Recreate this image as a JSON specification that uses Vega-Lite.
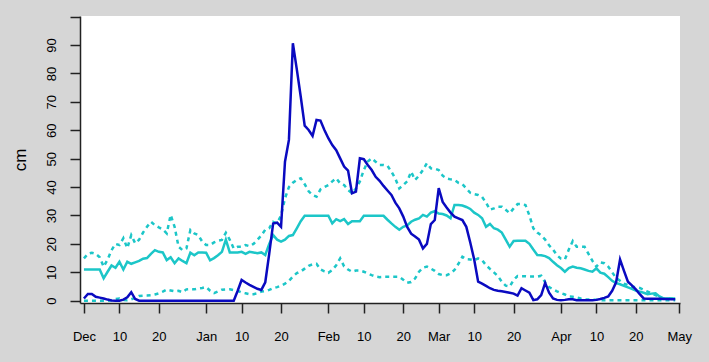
{
"$schema": "https://vega.github.io/schema/vega-lite/v6.json",
"width": 600, "height": 287,
"autosize": {"type": "none"},
"padding": {"left": 80, "top": 16, "right": 29, "bottom": 59},
"background": "#d6d6d6",
"config": {
  "view": {"fill": "white", "stroke": null},
  "font": "Liberation Sans",
  "axis": {"domainColor": "#222", "domainWidth": 1.5, "tickColor": "#222", "tickWidth": 1.5, "tickSize": 10,
           "labelColor": "#000", "labelFontSize": 13, "labelFont": "Liberation Sans", "grid": false,
           "titleFont": "Liberation Sans", "titleColor": "#000", "titleFontWeight": "normal"}
},
"data": {"values": [
{"date":"2018-12-01","obs":0.8,"med":11,"hi":14.9,"lo":0},
{"date":"2018-12-02","obs":2.4,"med":11,"hi":16.5,"lo":0},
{"date":"2018-12-03","obs":2.4,"med":11,"hi":16.9,"lo":0},
{"date":"2018-12-04","obs":1.4,"med":11,"hi":16.5,"lo":0},
{"date":"2018-12-05","obs":1.1,"med":11,"hi":15.3,"lo":0},
{"date":"2018-12-06","obs":0.8,"med":7.9,"hi":12,"lo":0},
{"date":"2018-12-07","obs":0.4,"med":10.2,"hi":14.5,"lo":0},
{"date":"2018-12-08","obs":0.1,"med":12.4,"hi":17.8,"lo":0.2},
{"date":"2018-12-09","obs":0,"med":11.6,"hi":20,"lo":0.6},
{"date":"2018-12-10","obs":0,"med":13.7,"hi":19.6,"lo":0.8},
{"date":"2018-12-11","obs":0.4,"med":11,"hi":22,"lo":0.3},
{"date":"2018-12-12","obs":1.2,"med":13.7,"hi":18.5,"lo":0.2},
{"date":"2018-12-13","obs":3.0,"med":13,"hi":23.1,"lo":0.5},
{"date":"2018-12-14","obs":0.6,"med":13.5,"hi":20.2,"lo":1},
{"date":"2018-12-15","obs":0,"med":14,"hi":21.5,"lo":1.7},
{"date":"2018-12-16","obs":0,"med":14.8,"hi":24,"lo":1.8},
{"date":"2018-12-17","obs":0,"med":15,"hi":26,"lo":1.8},
{"date":"2018-12-18","obs":0,"med":16.5,"hi":27.8,"lo":1.9},
{"date":"2018-12-19","obs":0,"med":17.8,"hi":26.6,"lo":2.2},
{"date":"2018-12-20","obs":0,"med":17.2,"hi":25.8,"lo":2.6},
{"date":"2018-12-21","obs":0,"med":17,"hi":25.1,"lo":3.2},
{"date":"2018-12-22","obs":0,"med":14.3,"hi":23.7,"lo":3.9},
{"date":"2018-12-23","obs":0,"med":15.3,"hi":30.2,"lo":3.6},
{"date":"2018-12-24","obs":0,"med":13.2,"hi":26,"lo":3.3},
{"date":"2018-12-25","obs":0,"med":14.9,"hi":19,"lo":3.5},
{"date":"2018-12-26","obs":0,"med":14,"hi":17.8,"lo":3},
{"date":"2018-12-27","obs":0,"med":13.2,"hi":18.4,"lo":4},
{"date":"2018-12-28","obs":0,"med":16.9,"hi":24.9,"lo":4.1},
{"date":"2018-12-29","obs":0,"med":16,"hi":23.7,"lo":4},
{"date":"2018-12-30","obs":0,"med":17,"hi":23.1,"lo":4.3},
{"date":"2018-12-31","obs":0,"med":17,"hi":20.8,"lo":4.5},
{"date":"2019-01-01","obs":0,"med":16.9,"hi":19.6,"lo":4.8},
{"date":"2019-01-02","obs":0,"med":14.2,"hi":19.6,"lo":3.5},
{"date":"2019-01-03","obs":0,"med":15,"hi":20.5,"lo":2.7},
{"date":"2019-01-04","obs":0,"med":16,"hi":21.1,"lo":3.3},
{"date":"2019-01-05","obs":0,"med":17.2,"hi":21.4,"lo":3.9},
{"date":"2019-01-06","obs":0,"med":21.5,"hi":23.9,"lo":4},
{"date":"2019-01-07","obs":0,"med":17,"hi":21.4,"lo":4},
{"date":"2019-01-08","obs":0,"med":17,"hi":18.4,"lo":3.7},
{"date":"2019-01-09","obs":3.5,"med":17,"hi":19,"lo":3.5},
{"date":"2019-01-10","obs":7.3,"med":17.2,"hi":19,"lo":2.9},
{"date":"2019-01-11","obs":6.4,"med":16.5,"hi":19.6,"lo":2.6},
{"date":"2019-01-12","obs":5.6,"med":17.2,"hi":19.2,"lo":2.3},
{"date":"2019-01-13","obs":4.9,"med":17,"hi":20,"lo":2.3},
{"date":"2019-01-14","obs":4.2,"med":16.7,"hi":21.4,"lo":2.6},
{"date":"2019-01-15","obs":3.8,"med":17,"hi":23,"lo":3.2},
{"date":"2019-01-16","obs":6.5,"med":16.1,"hi":25,"lo":3.4},
{"date":"2019-01-17","obs":16.5,"med":20,"hi":25.5,"lo":3.8},
{"date":"2019-01-18","obs":27.2,"med":23.1,"hi":27.8,"lo":4.4},
{"date":"2019-01-19","obs":27.5,"med":21.5,"hi":27.2,"lo":4.8},
{"date":"2019-01-20","obs":26,"med":20.8,"hi":30,"lo":5.3},
{"date":"2019-01-21","obs":48.9,"med":21.5,"hi":36,"lo":6},
{"date":"2019-01-22","obs":56.6,"med":22.8,"hi":40,"lo":7},
{"date":"2019-01-23","obs":90.6,"med":23.1,"hi":41.5,"lo":8.5},
{"date":"2019-01-24","obs":81.4,"med":25.5,"hi":42.5,"lo":9.7},
{"date":"2019-01-25","obs":71.8,"med":28,"hi":43.1,"lo":10.3},
{"date":"2019-01-26","obs":61.6,"med":29.9,"hi":41,"lo":11.3},
{"date":"2019-01-27","obs":60.1,"med":29.9,"hi":38.5,"lo":12.3},
{"date":"2019-01-28","obs":58,"med":29.9,"hi":37.2,"lo":12.8},
{"date":"2019-01-29","obs":63.6,"med":29.9,"hi":36.6,"lo":13},
{"date":"2019-01-30","obs":63.4,"med":29.9,"hi":39.2,"lo":11},
{"date":"2019-01-31","obs":60.1,"med":29.9,"hi":40,"lo":10.3},
{"date":"2019-02-01","obs":57.2,"med":29.9,"hi":40.7,"lo":9.8},
{"date":"2019-02-02","obs":54.8,"med":27.2,"hi":42,"lo":10.8},
{"date":"2019-02-03","obs":53,"med":28.7,"hi":43.1,"lo":12.5},
{"date":"2019-02-04","obs":50.1,"med":28,"hi":41.3,"lo":14.9},
{"date":"2019-02-05","obs":47.2,"med":28.7,"hi":40.7,"lo":12.1},
{"date":"2019-02-06","obs":45.8,"med":27,"hi":39,"lo":11},
{"date":"2019-02-07","obs":37.8,"med":28,"hi":37.8,"lo":10.2},
{"date":"2019-02-08","obs":38.4,"med":28,"hi":39.5,"lo":10.6},
{"date":"2019-02-09","obs":50.1,"med":28,"hi":42,"lo":10.6},
{"date":"2019-02-10","obs":49.8,"med":29.9,"hi":46,"lo":10.2},
{"date":"2019-02-11","obs":47.8,"med":29.9,"hi":49,"lo":9.6},
{"date":"2019-02-12","obs":46,"med":29.9,"hi":50.1,"lo":9},
{"date":"2019-02-13","obs":43.6,"med":29.9,"hi":48.9,"lo":8.5},
{"date":"2019-02-14","obs":42.2,"med":29.9,"hi":47.8,"lo":8.3},
{"date":"2019-02-15","obs":40.4,"med":29.9,"hi":47.8,"lo":8.4},
{"date":"2019-02-16","obs":38.8,"med":28.5,"hi":47.5,"lo":8.4},
{"date":"2019-02-17","obs":37.2,"med":27.2,"hi":45.4,"lo":8.4},
{"date":"2019-02-18","obs":34.5,"med":26,"hi":43,"lo":8.4},
{"date":"2019-02-19","obs":32.5,"med":25,"hi":39.5,"lo":8.4},
{"date":"2019-02-20","obs":29.6,"med":26,"hi":40.7,"lo":7.4},
{"date":"2019-02-21","obs":26,"med":26.5,"hi":42,"lo":6.3},
{"date":"2019-02-22","obs":23.6,"med":27.8,"hi":45.4,"lo":6.6},
{"date":"2019-02-23","obs":22.6,"med":28.5,"hi":42.5,"lo":7.8},
{"date":"2019-02-24","obs":21.5,"med":29,"hi":44,"lo":10.2},
{"date":"2019-02-25","obs":18.4,"med":30.2,"hi":46,"lo":11.6},
{"date":"2019-02-26","obs":20,"med":29.6,"hi":48.4,"lo":12},
{"date":"2019-02-27","obs":27,"med":31,"hi":46.6,"lo":11.3},
{"date":"2019-02-28","obs":28.4,"med":31.5,"hi":46.5,"lo":10.5},
{"date":"2019-03-01","obs":39.6,"med":30.7,"hi":46,"lo":9.4},
{"date":"2019-03-02","obs":34.8,"med":30.5,"hi":44,"lo":9},
{"date":"2019-03-03","obs":32.8,"med":30,"hi":43,"lo":9},
{"date":"2019-03-04","obs":31,"med":29,"hi":42.7,"lo":9.6},
{"date":"2019-03-05","obs":29.6,"med":33.7,"hi":42.5,"lo":10.8},
{"date":"2019-03-06","obs":29,"med":33.7,"hi":41.5,"lo":13},
{"date":"2019-03-07","obs":28.4,"med":33.5,"hi":41,"lo":15.5},
{"date":"2019-03-08","obs":26,"med":33,"hi":39.5,"lo":14.6},
{"date":"2019-03-09","obs":20.5,"med":32.3,"hi":38,"lo":14.5},
{"date":"2019-03-10","obs":14.5,"med":31,"hi":37.5,"lo":14.2},
{"date":"2019-03-11","obs":6.7,"med":30.2,"hi":37.2,"lo":14.9},
{"date":"2019-03-12","obs":6,"med":29,"hi":36.5,"lo":14.3},
{"date":"2019-03-13","obs":5.2,"med":26,"hi":34.5,"lo":12.5},
{"date":"2019-03-14","obs":4.4,"med":27,"hi":32,"lo":11.2},
{"date":"2019-03-15","obs":3.8,"med":25.5,"hi":32.5,"lo":10},
{"date":"2019-03-16","obs":3.5,"med":25,"hi":33.1,"lo":8.7},
{"date":"2019-03-17","obs":3.3,"med":24,"hi":33.1,"lo":6.7},
{"date":"2019-03-18","obs":3.1,"med":21.5,"hi":32,"lo":5.3},
{"date":"2019-03-19","obs":2.8,"med":19,"hi":30.8,"lo":5},
{"date":"2019-03-20","obs":2.5,"med":21,"hi":32.5,"lo":7.3},
{"date":"2019-03-21","obs":1.8,"med":21.1,"hi":34,"lo":8.7},
{"date":"2019-03-22","obs":4.4,"med":21.1,"hi":34,"lo":8.6},
{"date":"2019-03-23","obs":3.6,"med":21.1,"hi":33.7,"lo":8.6},
{"date":"2019-03-24","obs":2.8,"med":20,"hi":30,"lo":8.5},
{"date":"2019-03-25","obs":0.2,"med":18,"hi":25.5,"lo":8.5},
{"date":"2019-03-26","obs":0.5,"med":16.1,"hi":24,"lo":8.5},
{"date":"2019-03-27","obs":2,"med":16,"hi":23,"lo":8.8},
{"date":"2019-03-28","obs":6.3,"med":15.7,"hi":21.5,"lo":6.5},
{"date":"2019-03-29","obs":2.8,"med":15,"hi":19.5,"lo":4.8},
{"date":"2019-03-30","obs":0.8,"med":13.7,"hi":18,"lo":4},
{"date":"2019-03-31","obs":0.3,"med":12.5,"hi":16,"lo":3.3},
{"date":"2019-04-01","obs":0.2,"med":11.5,"hi":14.8,"lo":2.7},
{"date":"2019-04-02","obs":0.3,"med":10.2,"hi":14.5,"lo":2.2},
{"date":"2019-04-03","obs":0.5,"med":11.5,"hi":18,"lo":1.5},
{"date":"2019-04-04","obs":0.5,"med":12,"hi":21,"lo":1.4},
{"date":"2019-04-05","obs":0.2,"med":11.6,"hi":19,"lo":1.2},
{"date":"2019-04-06","obs":0.2,"med":11.4,"hi":19,"lo":0.8},
{"date":"2019-04-07","obs":0.2,"med":11,"hi":19,"lo":0.5},
{"date":"2019-04-08","obs":0.2,"med":10.5,"hi":16.5,"lo":0.4},
{"date":"2019-04-09","obs":0.2,"med":10.2,"hi":14,"lo":0.3},
{"date":"2019-04-10","obs":0.3,"med":11.4,"hi":12,"lo":0.3},
{"date":"2019-04-11","obs":0.6,"med":9.9,"hi":13.5,"lo":0.2},
{"date":"2019-04-12","obs":1,"med":9.5,"hi":13.2,"lo":0.2},
{"date":"2019-04-13","obs":1.5,"med":8.3,"hi":12,"lo":0.2},
{"date":"2019-04-14","obs":3.5,"med":7,"hi":10,"lo":0.2},
{"date":"2019-04-15","obs":6.5,"med":6.2,"hi":8,"lo":0.2},
{"date":"2019-04-16","obs":14.5,"med":5.8,"hi":7,"lo":0.2},
{"date":"2019-04-17","obs":10.5,"med":5.2,"hi":6,"lo":0.2},
{"date":"2019-04-18","obs":6.7,"med":4.7,"hi":5.5,"lo":0.2},
{"date":"2019-04-19","obs":5.4,"med":4.2,"hi":4.9,"lo":0.2},
{"date":"2019-04-20","obs":4,"med":3.6,"hi":4.8,"lo":0.2},
{"date":"2019-04-21","obs":2.3,"med":3.2,"hi":4.5,"lo":0.2},
{"date":"2019-04-22","obs":0.8,"med":2.8,"hi":3.8,"lo":0.2},
{"date":"2019-04-23","obs":0.7,"med":2.3,"hi":3.2,"lo":0.2},
{"date":"2019-04-24","obs":0.7,"med":2.5,"hi":2.6,"lo":0.2},
{"date":"2019-04-25","obs":0.7,"med":2.6,"hi":2,"lo":0.2},
{"date":"2019-04-26","obs":0.7,"med":1.5,"hi":1.2,"lo":0.2},
{"date":"2019-04-27","obs":0.6,"med":0.8,"hi":0.8,"lo":0.2},
{"date":"2019-04-28","obs":0.6,"med":0.8,"hi":0.8,"lo":0.2},
{"date":"2019-04-29","obs":0.5,"med":0.8,"hi":0.8,"lo":0.2},
{"date":"2019-04-30","obs":0.5,"med":0.8,"hi":0.8,"lo":0.2}
]},
"encoding": {
  "x": {"field": "date", "type": "temporal",
        "scale": {"type": "utc", "domain": [{"year": 2018, "month": 11, "date": 30, "utc": true}, {"year": 2019, "month": 5, "date": 1, "hours": 5, "utc": true}]},
        "axis": {"title": null, "labelPadding": 17, "labelOverlap": false, "labelFlush": false, "labelBound": false, "labelAngle": 0,
                 "values": [
                   {"year": 2018, "month": 12, "date": 1, "utc": true},
                   {"year": 2018, "month": 12, "date": 10, "utc": true},
                   {"year": 2018, "month": 12, "date": 20, "utc": true},
                   {"year": 2019, "month": 1, "date": 1, "utc": true},
                   {"year": 2019, "month": 1, "date": 10, "utc": true},
                   {"year": 2019, "month": 1, "date": 20, "utc": true},
                   {"year": 2019, "month": 2, "date": 1, "utc": true},
                   {"year": 2019, "month": 2, "date": 10, "utc": true},
                   {"year": 2019, "month": 2, "date": 20, "utc": true},
                   {"year": 2019, "month": 3, "date": 1, "utc": true},
                   {"year": 2019, "month": 3, "date": 10, "utc": true},
                   {"year": 2019, "month": 3, "date": 20, "utc": true},
                   {"year": 2019, "month": 4, "date": 1, "utc": true},
                   {"year": 2019, "month": 4, "date": 10, "utc": true},
                   {"year": 2019, "month": 4, "date": 20, "utc": true},
                   {"year": 2019, "month": 5, "date": 1, "utc": true}
                 ],
                 "labelExpr": "utcdate(datum.value) == 1 ? utcFormat(datum.value, '%b') : '' + utcdate(datum.value)"}}
},
"layer": [
  {"mark": {"type": "line", "color": "#1cc6c8", "strokeWidth": 2.5, "strokeDash": [4, 4]},
   "encoding": {"y": {"field": "hi", "type": "quantitative", "scale": {"domain": [-0.8, 100.2], "nice": false, "zero": false},
     "axis": {"title": "cm", "values": [0,10,20,30,40,50,60,70,80,90,100], "labelExpr": "datum.value == 100 ? '' : datum.label",
              "labelAngle": 270, "labelAlign": "center", "labelBaseline": "bottom", "labelPadding": 12, "labelOverlap": false,
              "titleFontSize": 17, "titleX": -55, "titleY": 143.5, "titleBaseline": "alphabetic", "titleAngle": 270, "titleAlign": "center"}}}},
  {"mark": {"type": "line", "color": "#1cc6c8", "strokeWidth": 2.5, "strokeDash": [4, 4]},
   "encoding": {"y": {"field": "lo", "type": "quantitative", "scale": {"domain": [-0.8, 100.2], "nice": false, "zero": false},
     "axis": {"title": "cm", "values": [0,10,20,30,40,50,60,70,80,90,100], "labelExpr": "datum.value == 100 ? '' : datum.label",
              "labelAngle": 270, "labelAlign": "center", "labelBaseline": "bottom", "labelPadding": 12, "labelOverlap": false,
              "titleFontSize": 17, "titleX": -55, "titleY": 143.5, "titleBaseline": "alphabetic", "titleAngle": 270, "titleAlign": "center"}}}},
  {"mark": {"type": "line", "color": "#1cc6c8", "strokeWidth": 2.5},
   "encoding": {"y": {"field": "med", "type": "quantitative", "scale": {"domain": [-0.8, 100.2], "nice": false, "zero": false},
     "axis": {"title": "cm", "values": [0,10,20,30,40,50,60,70,80,90,100], "labelExpr": "datum.value == 100 ? '' : datum.label",
              "labelAngle": 270, "labelAlign": "center", "labelBaseline": "bottom", "labelPadding": 12, "labelOverlap": false,
              "titleFontSize": 17, "titleX": -55, "titleY": 143.5, "titleBaseline": "alphabetic", "titleAngle": 270, "titleAlign": "center"}}}},
  {"mark": {"type": "line", "color": "#0a0ac0", "strokeWidth": 2.5},
   "encoding": {"y": {"field": "obs", "type": "quantitative", "scale": {"domain": [-0.8, 100.2], "nice": false, "zero": false},
     "axis": {"title": "cm", "values": [0,10,20,30,40,50,60,70,80,90,100], "labelExpr": "datum.value == 100 ? '' : datum.label",
              "labelAngle": 270, "labelAlign": "center", "labelBaseline": "bottom", "labelPadding": 12, "labelOverlap": false,
              "titleFontSize": 17, "titleX": -55, "titleY": 143.5, "titleBaseline": "alphabetic", "titleAngle": 270, "titleAlign": "center"}}}}
]
}
